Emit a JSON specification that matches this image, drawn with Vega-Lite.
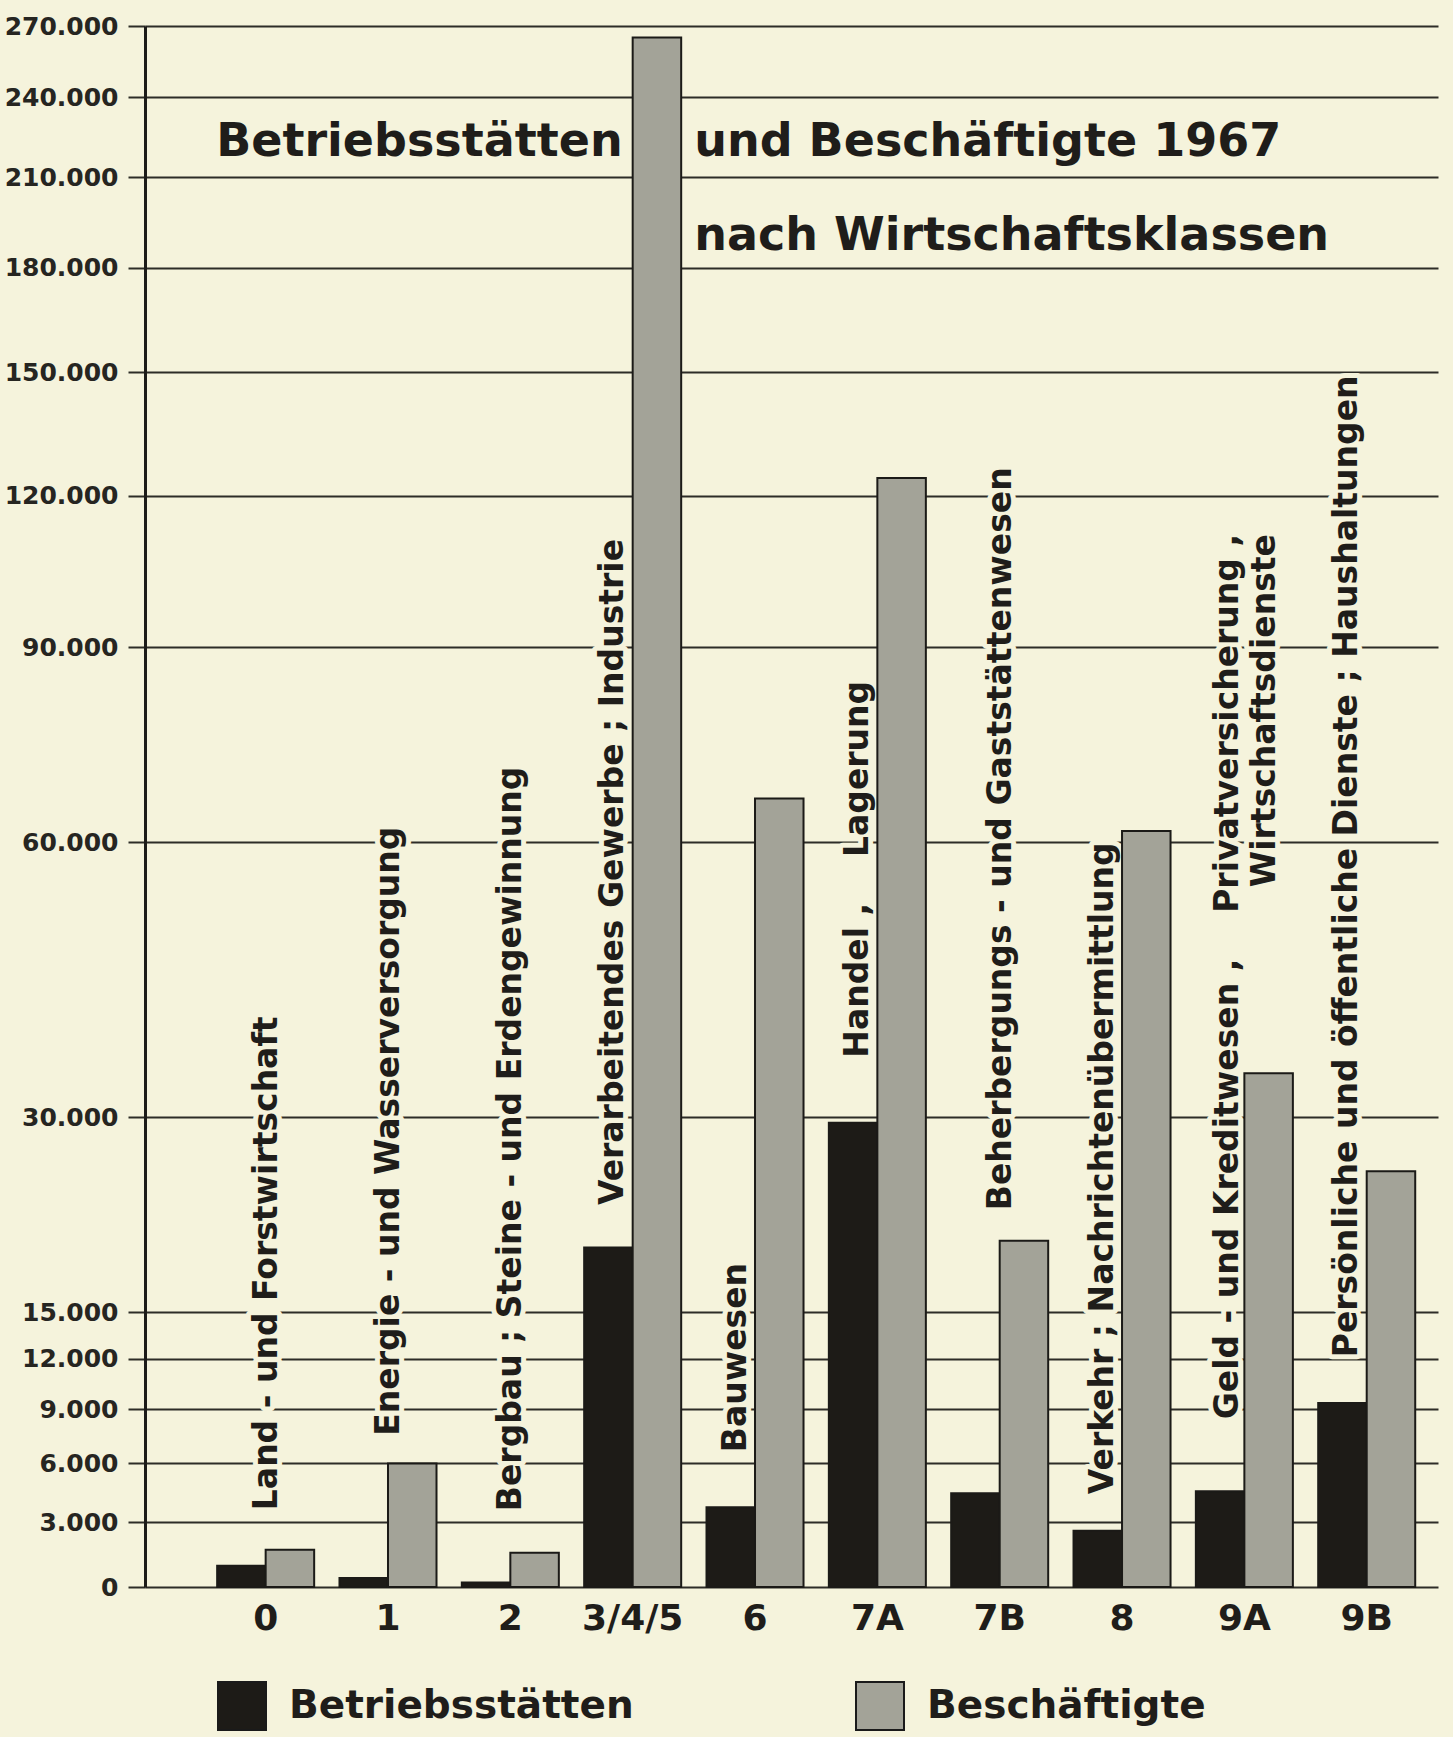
{
  "$schema": "https://vega.github.io/schema/vega-lite/v6.json",
  "width": 1293,
  "height": 1561,
  "autosize": {"type": "none"},
  "padding": {"left": 145, "top": 26, "right": 15, "bottom": 150},
  "background": "#f5f3dc",
  "config": {
    "view": {"stroke": null},
    "font": "DejaVu Sans"
  },
  "datasets": {
    "balken": [
      {"klasse": "0", "reihe": "Betriebsstätten", "wert": 950},
      {"klasse": "0", "reihe": "Beschäftigte", "wert": 1700},
      {"klasse": "1", "reihe": "Betriebsstätten", "wert": 400},
      {"klasse": "1", "reihe": "Beschäftigte", "wert": 6000},
      {"klasse": "2", "reihe": "Betriebsstätten", "wert": 200},
      {"klasse": "2", "reihe": "Beschäftigte", "wert": 1550},
      {"klasse": "3/4/5", "reihe": "Betriebsstätten", "wert": 19500},
      {"klasse": "3/4/5", "reihe": "Beschäftigte", "wert": 265000},
      {"klasse": "6", "reihe": "Betriebsstätten", "wert": 3750},
      {"klasse": "6", "reihe": "Beschäftigte", "wert": 66000},
      {"klasse": "7A", "reihe": "Betriebsstätten", "wert": 29500},
      {"klasse": "7A", "reihe": "Beschäftigte", "wert": 124000},
      {"klasse": "7B", "reihe": "Betriebsstätten", "wert": 4450},
      {"klasse": "7B", "reihe": "Beschäftigte", "wert": 20000},
      {"klasse": "8", "reihe": "Betriebsstätten", "wert": 2600},
      {"klasse": "8", "reihe": "Beschäftigte", "wert": 61500},
      {"klasse": "9A", "reihe": "Betriebsstätten", "wert": 4550},
      {"klasse": "9A", "reihe": "Beschäftigte", "wert": 34000},
      {"klasse": "9B", "reihe": "Betriebsstätten", "wert": 9350},
      {"klasse": "9B", "reihe": "Beschäftigte", "wert": 25400}
    ],
    "beschriftung": [
      {"klasse": "0", "text": "Land - und Forstwirtschaft", "bei": 3600},
      {"klasse": "1", "text": "Energie - und Wasserversorgung", "bei": 7500},
      {"klasse": "2", "text": "Bergbau ; Steine - und Erdengewinnung", "bei": 3550},
      {"klasse": "3/4/5", "text": "Verarbeitendes Gewerbe ; Industrie", "bei": 22700},
      {"klasse": "6", "text": "Bauwesen", "bei": 6600},
      {"klasse": "7A", "text": "Handel ,\u00a0\u00a0\u00a0 Lagerung", "bei": 35500},
      {"klasse": "7B", "text": "Beherbergungs - und Gaststättenwesen", "bei": 22300},
      {"klasse": "8", "text": "Verkehr ; Nachrichtenübermittlung", "bei": 4400},
      {"klasse": "9A", "text": "Geld - und Kreditwesen ,\u00a0\u00a0\u00a0 Privatversicherung ,\nWirtschaftsdienste", "bei": 111800},
      {"klasse": "9B", "text": "Persönliche und öffentliche Dienste ; Haushaltungen", "bei": 12100}
    ],
    "titel": [
      {"teil": "a", "klasse": "0", "text": "Betriebsstätten", "bei": 222800},
      {"teil": "b", "klasse": "3/4/5", "text": "und Beschäftigte 1967", "bei": 222800},
      {"teil": "b", "klasse": "3/4/5", "text": "nach Wirtschaftsklassen", "bei": 190000}
    ]
  },
  "layer": [
    {
      "data": {"name": "beschriftung"},
      "transform": [{"filter": {"field": "klasse", "oneOf": ["0", "1", "2", "7B"]}}],
      "mark": {"type": "text", "angle": 270, "align": "left", "baseline": "middle", "font": "DejaVu Sans", "fontWeight": "bold", "fontSize": 33, "fill": "#f5f3dc", "stroke": "#f5f3dc", "strokeWidth": 10, "strokeJoin": "round"},
      "encoding": {
        "x": {"field": "klasse", "type": "nominal", "bandPosition": 0.51, "title": null, "scale": {"type": "band", "domain": ["0", "1", "2", "3/4/5", "6", "7A", "7B", "8", "9A", "9B"], "paddingInner": 0.207, "paddingOuter": 0.388, "align": 0.76}},
        "y": {"field": "bei", "type": "quantitative", "title": null},
        "text": {"field": "text"}
      }
    },
    {
      "data": {"name": "beschriftung"},
      "transform": [{"filter": {"field": "klasse", "oneOf": ["3/4/5", "6", "7A", "8", "9B"]}}],
      "mark": {"type": "text", "angle": 270, "align": "left", "baseline": "middle", "font": "DejaVu Sans", "fontWeight": "bold", "fontSize": 33, "fill": "#f5f3dc", "stroke": "#f5f3dc", "strokeWidth": 10, "strokeJoin": "round"},
      "encoding": {
        "x": {"field": "klasse", "type": "nominal", "bandPosition": 0.3, "title": null, "scale": {"type": "band", "domain": ["0", "1", "2", "3/4/5", "6", "7A", "7B", "8", "9A", "9B"], "paddingInner": 0.207, "paddingOuter": 0.388, "align": 0.76}},
        "y": {"field": "bei", "type": "quantitative", "title": null},
        "text": {"field": "text"}
      }
    },
    {
      "data": {"name": "beschriftung"},
      "transform": [{"filter": {"field": "klasse", "equal": "9A"}}],
      "mark": {"type": "text", "angle": 270, "align": "right", "baseline": "middle", "lineBreak": "\n", "lineHeight": 37, "font": "DejaVu Sans", "fontWeight": "bold", "fontSize": 33, "fill": "#f5f3dc", "stroke": "#f5f3dc", "strokeWidth": 10, "strokeJoin": "round"},
      "encoding": {
        "x": {"field": "klasse", "type": "nominal", "bandPosition": 0.33, "title": null, "scale": {"type": "band", "domain": ["0", "1", "2", "3/4/5", "6", "7A", "7B", "8", "9A", "9B"], "paddingInner": 0.207, "paddingOuter": 0.388, "align": 0.76}},
        "y": {"field": "bei", "type": "quantitative", "title": null},
        "text": {"field": "text"}
      }
    },
    {
      "data": {"name": "balken"},
      "mark": {"type": "bar", "stroke": "#1b1a17", "strokeWidth": 2},
      "encoding": {
        "x": {
          "field": "klasse", "type": "nominal",
          "scale": {"type": "band", "domain": ["0", "1", "2", "3/4/5", "6", "7A", "7B", "8", "9A", "9B"], "paddingInner": 0.207, "paddingOuter": 0.388, "align": 0.76},
          "axis": {"title": null, "labelAngle": 0, "labelAlign": "center", "bandPosition": 0.5, "ticks": false, "domain": false, "grid": false, "labelFont": "DejaVu Sans", "labelFontSize": 36, "labelFontWeight": "bold", "labelPadding": 31, "labelColor": "#1f1d1a"}
        },
        "xOffset": {"field": "reihe", "type": "nominal", "sort": ["Betriebsstätten", "Beschäftigte"], "scale": {"paddingInner": 0, "paddingOuter": 0}},
        "y": {
          "field": "wert", "type": "quantitative",
          "scale": {"type": "symlog", "constant": 30000, "domain": [0, 270000], "nice": false},
          "axis": {
            "title": null,
            "values": [0, 3000, 6000, 9000, 12000, 15000, 30000, 60000, 90000, 120000, 150000, 180000, 210000, 240000, 270000],
            "labelExpr": "replace(format(datum.value, ','), ',', '.')",
            "grid": true, "gridColor": "#2d2c27", "gridWidth": 2, "gridOpacity": 1,
            "ticks": true, "tickSize": 17, "tickColor": "#2d2c27", "tickWidth": 2,
            "domain": true, "domainColor": "#1c1b18", "domainWidth": 3,
            "labelFont": "DejaVu Sans", "labelFontWeight": "bold", "labelFontSize": 25, "labelColor": "#262521",
            "labelPadding": 10, "labelFlush": false, "labelOverlap": false
          }
        },
        "color": {
          "field": "reihe", "type": "nominal",
          "scale": {"domain": ["Betriebsstätten", "Beschäftigte"], "range": ["#1d1b17", "#a3a398"]},
          "legend": {
            "title": null, "orient": "none", "legendX": 72, "legendY": 1655, "direction": "horizontal",
            "symbolType": "square", "symbolSize": 2304, "symbolStrokeColor": "#1a1a1a", "symbolStrokeWidth": 2,
            "labelFont": "DejaVu Sans", "labelFontSize": 39, "labelFontWeight": "bold", "labelColor": "#1f1d1a",
            "labelOffset": 22, "columnPadding": 218, "labelLimit": 0, "padding": 0
          }
        }
      }
    },
    {
      "data": {"name": "beschriftung"},
      "transform": [{"filter": {"field": "klasse", "oneOf": ["0", "1", "2", "7B"]}}],
      "mark": {"type": "text", "angle": 270, "align": "left", "baseline": "middle", "font": "DejaVu Sans", "fontWeight": "bold", "fontSize": 33, "fill": "#1f1d1a"},
      "encoding": {
        "x": {"field": "klasse", "type": "nominal", "bandPosition": 0.51, "title": null, "scale": {"type": "band", "domain": ["0", "1", "2", "3/4/5", "6", "7A", "7B", "8", "9A", "9B"], "paddingInner": 0.207, "paddingOuter": 0.388, "align": 0.76}},
        "y": {"field": "bei", "type": "quantitative", "title": null},
        "text": {"field": "text"}
      }
    },
    {
      "data": {"name": "beschriftung"},
      "transform": [{"filter": {"field": "klasse", "oneOf": ["3/4/5", "6", "7A", "8", "9B"]}}],
      "mark": {"type": "text", "angle": 270, "align": "left", "baseline": "middle", "font": "DejaVu Sans", "fontWeight": "bold", "fontSize": 33, "fill": "#1f1d1a"},
      "encoding": {
        "x": {"field": "klasse", "type": "nominal", "bandPosition": 0.3, "title": null, "scale": {"type": "band", "domain": ["0", "1", "2", "3/4/5", "6", "7A", "7B", "8", "9A", "9B"], "paddingInner": 0.207, "paddingOuter": 0.388, "align": 0.76}},
        "y": {"field": "bei", "type": "quantitative", "title": null},
        "text": {"field": "text"}
      }
    },
    {
      "data": {"name": "beschriftung"},
      "transform": [{"filter": {"field": "klasse", "equal": "9A"}}],
      "mark": {"type": "text", "angle": 270, "align": "right", "baseline": "middle", "lineBreak": "\n", "lineHeight": 37, "font": "DejaVu Sans", "fontWeight": "bold", "fontSize": 33, "fill": "#1f1d1a"},
      "encoding": {
        "x": {"field": "klasse", "type": "nominal", "bandPosition": 0.33, "title": null, "scale": {"type": "band", "domain": ["0", "1", "2", "3/4/5", "6", "7A", "7B", "8", "9A", "9B"], "paddingInner": 0.207, "paddingOuter": 0.388, "align": 0.76}},
        "y": {"field": "bei", "type": "quantitative", "title": null},
        "text": {"field": "text"}
      }
    },
    {
      "data": {"name": "titel"},
      "transform": [{"filter": {"field": "teil", "equal": "a"}}],
      "mark": {"type": "text", "align": "left", "baseline": "middle", "font": "DejaVu Sans", "fontWeight": "bold", "fontSize": 46, "fill": "#1f1d1a", "dx": -1},
      "encoding": {
        "x": {"field": "klasse", "type": "nominal", "bandPosition": 0, "title": null, "scale": {"type": "band", "domain": ["0", "1", "2", "3/4/5", "6", "7A", "7B", "8", "9A", "9B"], "paddingInner": 0.207, "paddingOuter": 0.388, "align": 0.76}},
        "y": {"field": "bei", "type": "quantitative", "title": null},
        "text": {"field": "text"}
      }
    },
    {
      "data": {"name": "titel"},
      "transform": [{"filter": {"field": "teil", "equal": "b"}}],
      "mark": {"type": "text", "align": "left", "baseline": "middle", "font": "DejaVu Sans", "fontWeight": "bold", "fontSize": 46, "fill": "#1f1d1a", "dx": 13},
      "encoding": {
        "x": {"field": "klasse", "type": "nominal", "bandPosition": 1, "title": null, "scale": {"type": "band", "domain": ["0", "1", "2", "3/4/5", "6", "7A", "7B", "8", "9A", "9B"], "paddingInner": 0.207, "paddingOuter": 0.388, "align": 0.76}},
        "y": {"field": "bei", "type": "quantitative", "title": null},
        "text": {"field": "text"}
      }
    }
  ]
}
